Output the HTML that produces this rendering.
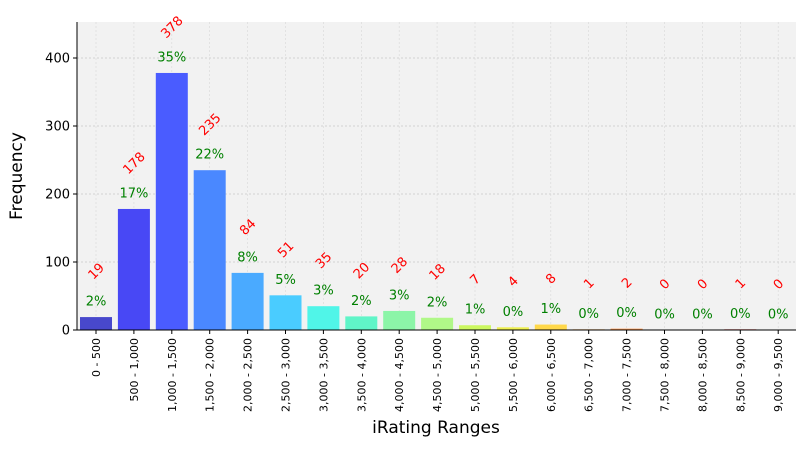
<!DOCTYPE html>
<html><head><meta charset="utf-8"><style>
body{margin:0;background:#fff;font-family:"Liberation Sans","DejaVu Sans",sans-serif}
</style></head><body>
<svg id="chart" width="810" height="450" font-family="DejaVu Sans, Liberation Sans, sans-serif">
<rect x="77" y="22" width="719" height="308" fill="#f2f2f2"/>
<g id="grid"></g><g id="bars"></g><g id="labels"></g><g id="xt"></g><g id="yt"></g>
<line x1="77" y1="22" x2="77" y2="330" stroke="#000"/>
<line x1="77" y1="330" x2="796" y2="330" stroke="#000"/>
<text x="22" y="176" font-size="17" text-anchor="middle" transform="rotate(-90 22 176)">Frequency</text>
<text x="436" y="433" font-size="17" text-anchor="middle">iRating Ranges</text>
</svg>
<script>
const categories=["0 - 500","500 - 1,000","1,000 - 1,500","1,500 - 2,000","2,000 - 2,500","2,500 - 3,000","3,000 - 3,500","3,500 - 4,000","4,000 - 4,500","4,500 - 5,000","5,000 - 5,500","5,500 - 6,000","6,000 - 6,500","6,500 - 7,000","7,000 - 7,500","7,500 - 8,000","8,000 - 8,500","8,500 - 9,000","9,000 - 9,500"];
const counts=[19,178,378,235,84,51,35,20,28,18,7,4,8,1,2,0,0,1,0];
const percents=["2%","17%","35%","22%","8%","5%","3%","2%","3%","2%","1%","0%","1%","0%","0%","0%","0%","0%","0%"];
const yTicks=[0,100,200,300,400];
const colors=["#4848cc","#4848f5","#4a5cff","#4a88ff","#4aaaff","#4accff","#50f5e8","#60f5c8","#8cf5a8","#b0f888","#ccf860","#eef050","#ffd84a","#ffb050","#ff9850","#ff8050","#ff6848","#e04040","#d03030"];
const ns="http://www.w3.org/2000/svg";
const y=v=>330-v*0.68, x=i=>96+i*37.9;
function mk(t,a,p){const e=document.createElementNS(ns,t);for(const k in a)e.setAttribute(k,a[k]);p.appendChild(e);return e;}
const G=document.getElementById('grid'),B=document.getElementById('bars'),L=document.getElementById('labels'),XT=document.getElementById('xt'),YT=document.getElementById('yt');
yTicks.forEach(v=>{
 if(v>0){const g=mk('line',{x1:77,x2:796,y1:y(v),y2:y(v),stroke:'#c8c8c8','stroke-dasharray':'2,2','stroke-width':0.8},G);
 
 }
 const tk=mk('line',{x1:73,x2:77,y1:y(v),y2:y(v),stroke:'#000'},YT);
 
 
 const t=mk('text',{x:70,y:y(v)+4.5,'font-size':13,'text-anchor':'end'},YT);t.textContent=v;
 
 
});
categories.forEach((c,i)=>{
 const cx=x(i);
 const vg=mk('line',{x1:cx,x2:cx,y1:22,y2:330,stroke:'#d8d8d8','stroke-dasharray':'2,2','stroke-width':0.6},G);
 
 
 const r=mk('rect',{x:cx-16,y:y(counts[i]),width:32,height:330-y(counts[i]),fill:colors[i]},B);
 
 
 const top=y(counts[i]);
 const p=mk('text',{x:cx,y:top-16+4.5,'font-size':13,fill:'green','text-anchor':'middle'},L);p.textContent=percents[i];
 
 
 const cy=top-46;
 const n=mk('text',{x:cx,y:cy+4.5,'font-size':13,fill:'red','text-anchor':'middle',transform:`rotate(-45 ${cx} ${cy})`},L);n.textContent=counts[i];
 
 
 const tk=mk('line',{x1:cx,x2:cx,y1:330,y2:334,stroke:'#000'},XT);
 
 
 const t=mk('text',{x:cx+4,y:338,'font-size':11,'text-anchor':'end',transform:`rotate(-90 ${cx+4} 338)`},XT);t.textContent=c;
 
 
});
</script>
</body></html>
